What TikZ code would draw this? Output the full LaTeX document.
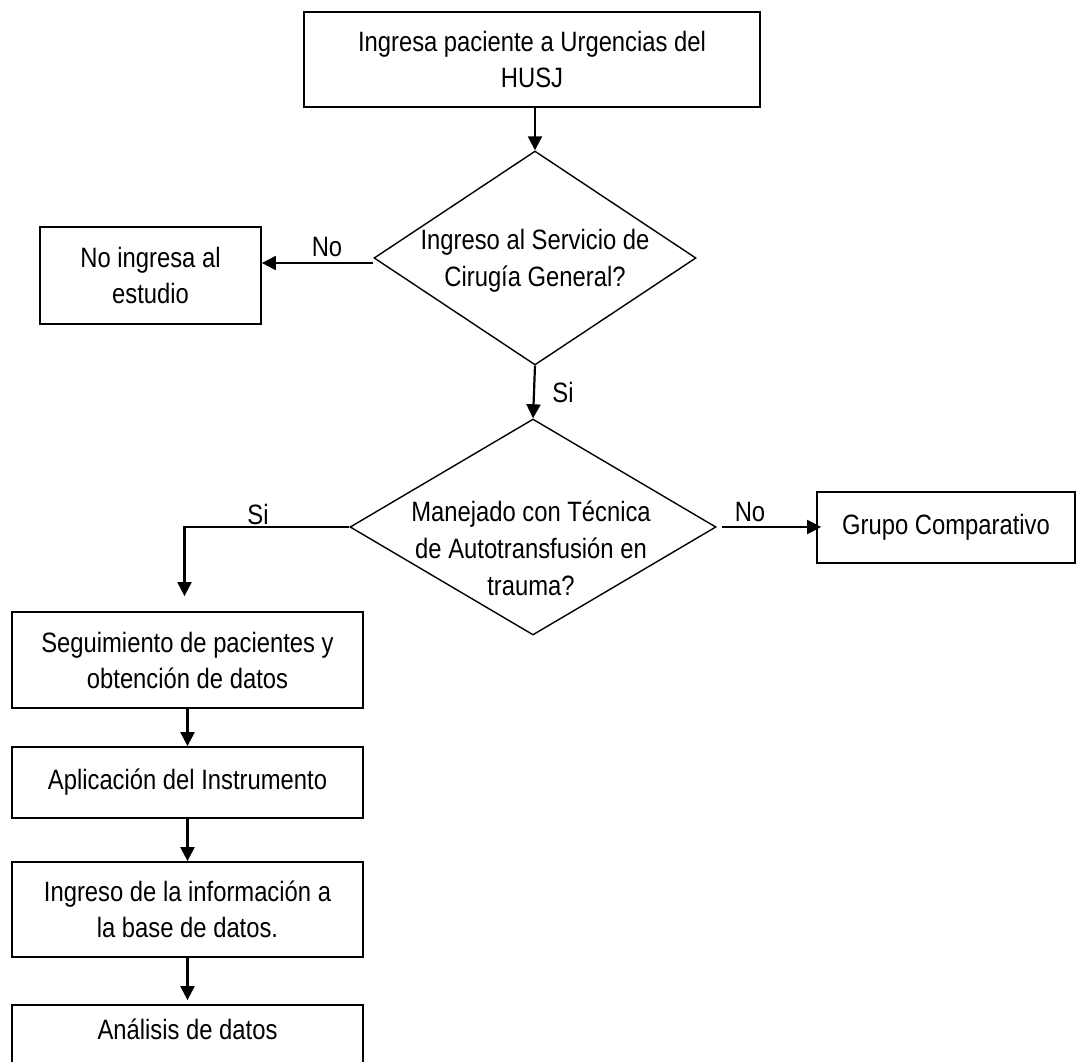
\documentclass[tikz,border=0pt]{standalone}
\usepackage{fontspec}
\setmainfont{Liberation Sans}[FakeStretch=0.85]
\usetikzlibrary{shapes.geometric,arrows.meta}
\begin{document}
\begin{tikzpicture}[x=1pt,y=-1pt,
  box/.style={draw, line width=1.8pt, inner sep=0pt, align=center, font=\fontsize{28}{36}\selectfont},
  dia/.style={draw, diamond, line width=1.4pt, inner sep=0pt},
  txt/.style={align=center, font=\fontsize{28}{37}\selectfont, inner sep=0pt},
  arr/.style={line width=2.2pt, -{Triangle[length=14pt,width=14pt]}},
  lbl/.style={font=\fontsize{28}{36}\selectfont, inner sep=0pt}]
\useasboundingbox (0,0) rectangle (1076,1061);
\fill[white] (0,0) rectangle (1076,1061);
\clip (0,0) rectangle (1076,1061);

% boxes
\node[box, minimum width=456pt, minimum height=95pt] (top) at (532,59.5)
  {Ingresa paciente a Urgencias del\\HUSJ};
\node[box, minimum width=221pt, minimum height=97pt] (noin) at (150.5,275.5)
  {No ingresa al\\estudio};
\node[box, minimum width=258pt, minimum height=71pt] (grupo) at (946,527.5)
  {Grupo Comparativo};
\node[box, minimum width=351pt, minimum height=96pt] (seg) at (187.5,660)
  {Seguimiento de pacientes y\\obtención de datos};
\node[box, minimum width=351pt, minimum height=71pt] (apl) at (187.5,782.5)
  {Aplicación del Instrumento};
\node[box, minimum width=351pt, minimum height=95pt] (ing) at (187.5,909.5)
  {Ingreso de la información a\\la base de datos.};
\node[box, minimum width=351pt, minimum height=70pt] (ana) at (187.5,1040) {};
\node[txt] (anat) at (187.5,1029) {Análisis de datos};

% decisions
\node[dia, minimum width=322pt, minimum height=214pt] (d1) at (535,258) {};
\node[txt] (d1t) at (535,261) {Ingreso al Servicio de\\Cirugía General?};
\node[dia, minimum width=366pt, minimum height=216pt] (d2) at (533,527) {};
\node[txt] (d2t) at (531,548) {Manejado con Técnica\\de Autotransfusión en\\trauma?};

% connectors
\draw[arr] (top.south -| d1.north) -- (d1.north);
\draw[arr] ([yshift=-5pt]d1.west) -- ([yshift=-5pt]d1.west -| noin.east);
\draw[arr] (d1.south) -- (d2.north);
\draw[arr] ([xshift=5pt]d2.east) -- ([xshift=5pt]d2.east -| grupo.west);
\draw[arr] (d2.west) -| ([xshift=-3pt,yshift=15pt]seg.north);
\draw[arr] (seg.south) -- (apl.north);
\draw[arr] (apl.south) -- (ing.north);
\draw[arr] (ing.south) -- ([yshift=4pt]ana.north);

% labels
\node[lbl] (no1) at (327,247) {No};
\node[lbl] (si1) at (563,392) {Si};
\node[lbl] (no2) at (750,512) {No};
\node[lbl] (si2) at (258,514) {Si};
\end{tikzpicture}
\end{document}
